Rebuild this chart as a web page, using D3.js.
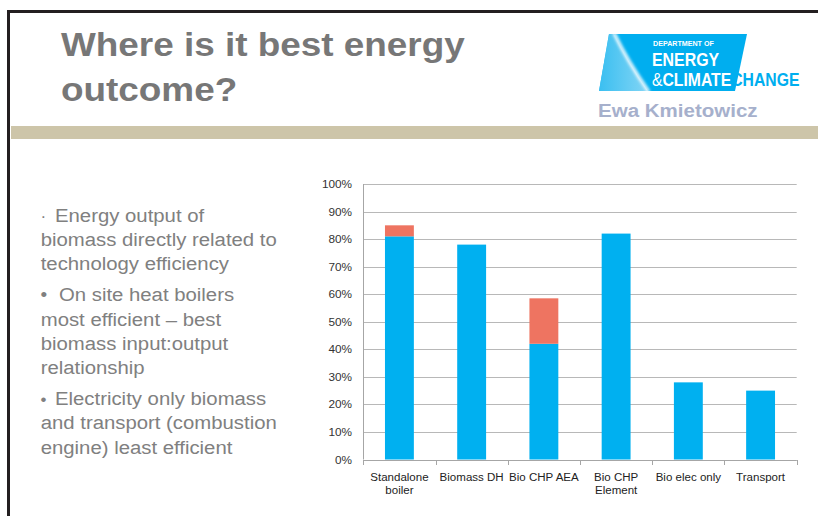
<!DOCTYPE html>
<html>
<head>
<meta charset="utf-8">
<script src="https://cdn.jsdelivr.net/npm/d3@7"></script>
<style>
  html, body { margin: 0; padding: 0; background: #fff; }
  svg { display: block; }
  text { font-family: "Liberation Sans", Arial, sans-serif; }
</style>
</head>
<body>
<svg id="slide" width="818" height="516"></svg>
<script>
// ---- data ----
const categories = ["Standalone\nboiler", "Biomass DH", "Bio CHP AEA", "Bio CHP\nElement", "Bio elec only", "Transport"];
const electricalShare = [0.81, 0.78, 0.42, 0.82, 0.28, 0.25];   // blue segment
const heatShare       = [0.04, 0, 0.165, 0, 0, 0];              // red segment on top
const yTickValues = [0, 0.1, 0.2, 0.3, 0.4, 0.5, 0.6, 0.7, 0.8, 0.9, 1.0];
const seriesColors = ["#00b0f0", "#ee7461"];

const titleLines = ["Where is it best energy", "outcome?"];
const bullets = [
  { mark: "\u00b7", lines: ["Energy output of", "biomass directly related to", "technology efficiency"] },
  { mark: "\u2022", lines: ["On site heat boilers", "most efficient \u2013 best", "biomass input:output", "relationship"] },
  { mark: "\u2022", lines: ["Electricity only biomass", "and transport (combustion", "engine) least efficient"] }
];

const svg = d3.select("#slide");

// stretched text helper: text drawn at origin, then scaled horizontally
function stext(parent, x, y, str, sx, attrs) {
  const g = parent.append("g").attr("transform", `translate(${x},${y}) scale(${sx},1)`);
  const t = g.append("text").text(str);
  Object.entries(attrs || {}).forEach(([k, v]) => t.attr(k, v));
  return t;
}

// ---- slide frame ----
svg.append("rect").attr("x", 7).attr("y", 10).attr("width", 811).attr("height", 3).attr("fill", "#231f20");
svg.append("rect").attr("x", 7).attr("y", 10).attr("width", 3).attr("height", 506).attr("fill", "#231f20");
svg.append("rect").attr("x", 11).attr("y", 126).attr("width", 807).attr("height", 13).attr("fill", "#cdc5a9");

// ---- title ----
titleLines.forEach((l, i) => {
  stext(svg, 61, 56 + i * 45, l, 1.135, {
    "font-size": 32.5, "font-weight": "bold", fill: "#777777"
  });
});

// ---- department logo ----
const logo = svg.append("g");
const defs = svg.append("defs");
const para = "M609,34 L747,34 L735,91 L599,91 Z";
defs.append("clipPath").attr("id", "logoClip").append("path").attr("d", para);
const lg = defs.append("linearGradient").attr("id", "glowFill")
  .attr("x1", "0").attr("y1", "0").attr("x2", "1").attr("y2", "0");
lg.append("stop").attr("offset", "0").attr("stop-color", "#35bdf0");
lg.append("stop").attr("offset", "1").attr("stop-color", "#9adcf6");
defs.append("filter").attr("id", "soft").append("feGaussianBlur").attr("stdDeviation", 1.6);

logo.append("path").attr("d", para).attr("fill", "#00aeef");
const glow = logo.append("g").attr("clip-path", "url(#logoClip)");
glow.append("path").attr("d", "M590,34 L614,34 Q628,62 648,91 L590,91 Z").attr("fill", "url(#glowFill)").attr("opacity", 0.85);
glow.append("path").attr("d", "M614,33 Q628,62 649,92").attr("fill", "none")
  .attr("stroke", "#ffffff").attr("stroke-width", 3).attr("filter", "url(#soft)");

stext(logo, 653, 46.3, "DEPARTMENT OF", 0.94, { "font-size": 7.6, "font-weight": "bold", fill: "#fff" });
stext(logo, 652, 66, "ENERGY", 0.86, { "font-size": 18.5, "font-weight": "bold", fill: "#fff" });

const climate = stext(logo, 652, 85.5, "", 0.9, { "font-size": 17.5, "font-weight": "bold", fill: "#fff" });
climate.append("tspan").attr("font-weight", "normal").text("&");
climate.append("tspan").text("CLIMATE");
climate.append("tspan").attr("fill", "#00aeef").text("CHANGE");

stext(svg, 598, 117, "Ewa Kmietowicz", 1.08, { "font-size": 19, "font-weight": "bold", fill: "#a6b0cc" });

// ---- bullet text ----
const textG = svg.append("g");
let baseY = 221.7;
const lineH = 24.2, paraGap = 7;
bullets.forEach((b, bi) => {
  b.lines.forEach((l, li) => {
    const y = baseY + li * lineH;
    if (li === 0) {
      stext(textG, 40.5, y, b.mark, 1.0, { "font-size": bi === 1 ? 19 : 17, fill: "#808080" });
      stext(textG, bi === 1 ? 59 : 55, y, l, 1.13, { "font-size": 18, fill: "#808080" });
    } else {
      stext(textG, 40.7, y, l, 1.13, { "font-size": 18, fill: "#808080" });
    }
  });
  baseY += b.lines.length * lineH + paraGap;
});

// ---- chart ----
const plot = { left: 363.3, right: 796.7, top: 184, bottom: 459.5 };
const x = d3.scaleBand().domain(categories).range([plot.left, plot.right]).paddingInner(0.6).paddingOuter(0.3);
const y = d3.scaleLinear().domain([0, 1]).range([plot.bottom, plot.top]);

const chart = svg.append("g");

// horizontal gridlines
chart.append("g").selectAll("line").data(yTickValues).join("line")
  .attr("x1", plot.left).attr("x2", plot.right)
  .attr("y1", d => Math.round(y(d)) + 0.5).attr("y2", d => Math.round(y(d)) + 0.5)
  .attr("stroke", "#b8b8b8").attr("stroke-width", 1);

// y-axis labels
const fmt = d3.format(".0%");
yTickValues.forEach(v => {
  stext(chart, 352, y(v) + 4, fmt(v), 1.07, { "font-size": 11, fill: "#333", "text-anchor": "end" });
});

// stacked bars
const rows = categories.map((c, i) => ({ cat: c, elec: electricalShare[i], heat: heatShare[i] }));
const stack = d3.stack().keys(["elec", "heat"])(rows);
chart.append("g").selectAll("g").data(stack).join("g")
  .attr("fill", (d, i) => seriesColors[i])
  .selectAll("rect").data(d => d.filter(s => s[1] > s[0])).join("rect")
  .attr("x", d => x(d.data.cat))
  .attr("width", x.bandwidth())
  .attr("y", d => y(d[1]))
  .attr("height", d => y(d[0]) - y(d[1]));

// vertical axis line
chart.append("line")
  .attr("x1", Math.round(plot.left) + 0.5).attr("x2", Math.round(plot.left) + 0.5)
  .attr("y1", plot.top).attr("y2", plot.bottom)
  .attr("stroke", "#a6a6a6");

// category axis with ticks between categories
const xAxisG = chart.append("g");
xAxisG.append("line").attr("x1", plot.left).attr("x2", plot.right)
  .attr("y1", Math.round(plot.bottom) + 0.5).attr("y2", Math.round(plot.bottom) + 0.5)
  .attr("stroke", "#a6a6a6");
const edges = categories.map(c => x(c) - x.step() * x.paddingInner() / 2).concat([plot.right]);
xAxisG.selectAll("line.tick").data(edges).join("line").attr("class", "tick")
  .attr("x1", d => Math.round(d) + 0.5).attr("x2", d => Math.round(d) + 0.5)
  .attr("y1", Math.round(plot.bottom)).attr("y2", Math.round(plot.bottom) + 5)
  .attr("stroke", "#a6a6a6");

categories.forEach(c => {
  const cx = x(c) + x.bandwidth() / 2;
  c.split("\n").forEach((line, li) => {
    stext(chart, cx, 481 + li * 12.8, line, 1.05, { "font-size": 11, fill: "#222", "text-anchor": "middle" });
  });
});
</script>
</body>
</html>
